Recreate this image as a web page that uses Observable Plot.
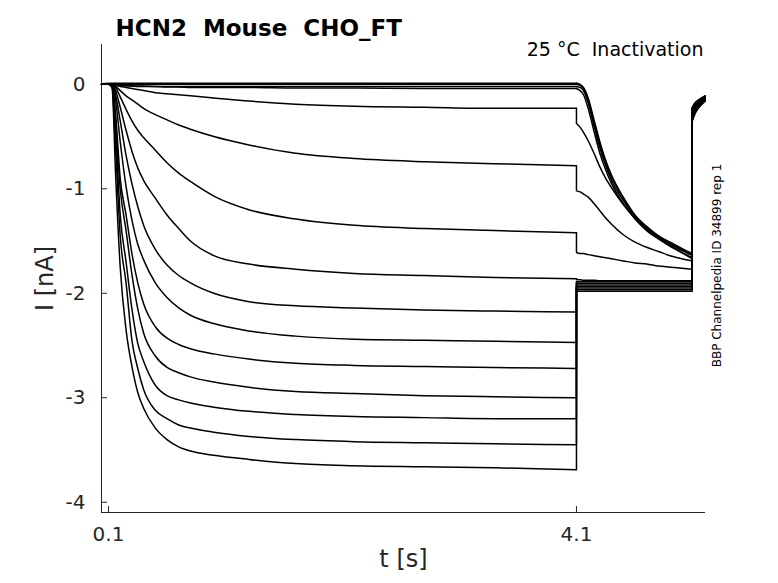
<!DOCTYPE html>
<html>
<head>
<meta charset="utf-8">
<script src="https://cdn.jsdelivr.net/npm/d3@7"></script>
<script src="https://cdn.jsdelivr.net/npm/@observablehq/plot@0.6"></script>
<style>
  html, body { margin: 0; padding: 0; background: #fff; }
  svg text { white-space: pre; }
</style>
</head>
<body>
<div id="chart"></div>
<script>
// ---- text ----
const titleText = "HCN2  Mouse  CHO_FT";
const conditionText = "25 °C  Inactivation";
const sideText = "BBP Channelpedia ID 34899 rep 1";
const xLabel = "t [s]";
const yLabel = "I [nA]";

// ---- axes ----
const xDomain = [0.04, 5.203];
const yDomain = [-4.098, 0.381];
const xTicks = [0.1, 4.1];
const xTickLabels = ["0.1", "4.1"];
const yTicks = [0, -1, -2, -3, -4];
const yTickLabels = ["0", "-1", "-2", "-3", "-4"];

// ---- traces (15 sweeps) ----
const traceNames = ["Z1","Z2","Z3","Z4","A","B","C","D","E","F","G","H","I","J","K"];

// conditioning step (0.1 s – 4.1 s)
const tAct = [0.04, 0.1, 0.13, 0.16, 0.2, 0.25, 0.3, 0.35, 0.4, 0.5, 0.6, 0.7, 0.8, 1.0, 1.3, 1.7, 2.2, 2.8, 3.4, 4.1];
const actCurrents = [
  [0.005,0.01,0.01,0.01,0.01,0.01,0.01,0.01,0.01,0.01,0.01,0.01,0.01,0.01,0.01,0.01,0.01,0.01,0.01,0.01],
  [0,0,0,0,0,0,0,0,0,0,0,0,0,0,0,0,0,0,0,0],
  [0,0,-0.005,-0.01,-0.01,-0.01,-0.015,-0.015,-0.015,-0.02,-0.02,-0.02,-0.02,-0.02,-0.02,-0.02,-0.02,-0.02,-0.02,-0.02],
  [0,0,-0.005,-0.01,-0.01,-0.015,-0.015,-0.02,-0.02,-0.02,-0.025,-0.025,-0.03,-0.03,-0.03,-0.035,-0.035,-0.04,-0.04,-0.04],
  [0,0,0,-0.01,-0.02,-0.03,-0.04,-0.05,-0.06,-0.08,-0.09,-0.10,-0.11,-0.13,-0.16,-0.19,-0.21,-0.22,-0.23,-0.23],
  [0,0,0,-0.02,-0.06,-0.11,-0.15,-0.19,-0.23,-0.29,-0.34,-0.39,-0.43,-0.50,-0.58,-0.66,-0.71,-0.74,-0.76,-0.78],
  [0,0,0,-0.03,-0.12,-0.24,-0.35,-0.44,-0.51,-0.63,-0.75,-0.85,-0.93,-1.07,-1.20,-1.29,-1.35,-1.38,-1.40,-1.42],
  [0,0,-0.005,-0.06,-0.22,-0.44,-0.64,-0.80,-0.92,-1.09,-1.25,-1.38,-1.50,-1.64,-1.72,-1.77,-1.81,-1.83,-1.85,-1.86],
  [0,0,-0.01,-0.10,-0.35,-0.68,-0.95,-1.17,-1.35,-1.58,-1.73,-1.83,-1.90,-2.00,-2.08,-2.12,-2.14,-2.16,-2.17,-2.18],
  [0,0,-0.01,-0.15,-0.55,-0.98,-1.30,-1.53,-1.68,-1.90,-2.04,-2.14,-2.21,-2.29,-2.36,-2.41,-2.44,-2.45,-2.46,-2.47],
  [0,0,-0.01,-0.28,-0.90,-1.25,-1.62,-1.90,-2.10,-2.32,-2.43,-2.49,-2.53,-2.58,-2.63,-2.67,-2.69,-2.70,-2.71,-2.72],
  [0,0,-0.02,-0.35,-1.00,-1.40,-1.82,-2.15,-2.38,-2.60,-2.71,-2.76,-2.80,-2.85,-2.90,-2.94,-2.96,-2.98,-2.99,-3.00],
  [0,0,-0.02,-0.45,-1.25,-1.70,-2.15,-2.48,-2.65,-2.88,-2.98,-3.02,-3.05,-3.09,-3.13,-3.16,-3.18,-3.19,-3.20,-3.20],
  [0,0,-0.02,-0.60,-1.45,-1.90,-2.45,-2.72,-2.92,-3.12,-3.20,-3.26,-3.29,-3.33,-3.37,-3.40,-3.42,-3.43,-3.44,-3.45],
  [0,0,-0.03,-0.85,-1.75,-2.35,-2.70,-2.95,-3.10,-3.29,-3.40,-3.47,-3.51,-3.55,-3.59,-3.63,-3.65,-3.66,-3.67,-3.69]
];

// test step (4.1 s – 5.09 s)
const tTail = [4.1, 4.13, 4.16, 4.2, 4.25, 4.3, 4.35, 4.4, 4.5, 4.6, 4.7, 4.8, 4.9, 5.0, 5.09];
const tailCurrents = [
  [0.01,0,-0.03,-0.13,-0.34,-0.55,-0.73,-0.87,-1.08,-1.25,-1.36,-1.45,-1.51,-1.57,-1.62],
  [0,-0.01,-0.04,-0.15,-0.37,-0.58,-0.75,-0.89,-1.09,-1.26,-1.37,-1.45,-1.52,-1.58,-1.63],
  [-0.02,-0.03,-0.06,-0.18,-0.40,-0.61,-0.78,-0.92,-1.11,-1.27,-1.38,-1.46,-1.53,-1.59,-1.64],
  [-0.04,-0.06,-0.10,-0.23,-0.45,-0.66,-0.82,-0.95,-1.14,-1.29,-1.40,-1.48,-1.55,-1.61,-1.66],
  [-0.375,-0.41,-0.46,-0.54,-0.66,-0.79,-0.90,-0.99,-1.15,-1.28,-1.39,-1.47,-1.54,-1.61,-1.67],
  [-1.02,-1.03,-1.05,-1.08,-1.14,-1.21,-1.28,-1.34,-1.44,-1.51,-1.56,-1.60,-1.64,-1.67,-1.69],
  [-1.61,-1.62,-1.62,-1.63,-1.64,-1.65,-1.66,-1.67,-1.69,-1.71,-1.72,-1.74,-1.75,-1.76,-1.77],
  [-1.87,-1.87,-1.875,-1.875,-1.875,-1.88,-1.88,-1.88,-1.88,-1.88,-1.88,-1.88,-1.88,-1.88,-1.88],
  [-1.89,-1.89,-1.89,-1.89,-1.89,-1.89,-1.89,-1.89,-1.89,-1.89,-1.89,-1.89,-1.89,-1.89,-1.89],
  [-1.905,-1.905,-1.905,-1.905,-1.905,-1.905,-1.905,-1.905,-1.905,-1.905,-1.905,-1.905,-1.905,-1.905,-1.905],
  [-1.92,-1.92,-1.92,-1.92,-1.92,-1.92,-1.92,-1.92,-1.92,-1.92,-1.92,-1.92,-1.92,-1.92,-1.92],
  [-1.935,-1.935,-1.935,-1.935,-1.935,-1.935,-1.935,-1.935,-1.935,-1.935,-1.935,-1.935,-1.935,-1.935,-1.935],
  [-1.95,-1.95,-1.95,-1.95,-1.95,-1.95,-1.95,-1.95,-1.95,-1.95,-1.95,-1.95,-1.95,-1.95,-1.95],
  [-1.965,-1.965,-1.965,-1.965,-1.965,-1.965,-1.965,-1.965,-1.965,-1.965,-1.965,-1.965,-1.965,-1.965,-1.965],
  [-1.98,-1.98,-1.98,-1.98,-1.98,-1.98,-1.98,-1.98,-1.98,-1.98,-1.98,-1.98,-1.98,-1.98,-1.98]
];

// return to holding (5.09 s – 5.2 s)
const tEnd = [5.09, 5.11, 5.14, 5.17, 5.2];
const endCurrents = [
  [-0.22,-0.18,-0.15,-0.13,-0.11],
  [-0.23,-0.19,-0.16,-0.13,-0.11],
  [-0.23,-0.19,-0.16,-0.14,-0.12],
  [-0.24,-0.20,-0.17,-0.14,-0.12],
  [-0.25,-0.21,-0.17,-0.15,-0.12],
  [-0.27,-0.22,-0.18,-0.15,-0.13],
  [-0.29,-0.24,-0.19,-0.16,-0.13],
  [-0.31,-0.25,-0.20,-0.17,-0.14],
  [-0.32,-0.26,-0.21,-0.17,-0.14],
  [-0.32,-0.26,-0.21,-0.18,-0.15],
  [-0.33,-0.27,-0.22,-0.18,-0.15],
  [-0.33,-0.27,-0.22,-0.18,-0.15],
  [-0.34,-0.28,-0.22,-0.19,-0.16],
  [-0.34,-0.28,-0.23,-0.19,-0.16],
  [-0.35,-0.29,-0.23,-0.19,-0.16]
];

// ---- build tables for the marks ----
const phases = [
  {name: "act", t: tAct, I: actCurrents},
  {name: "tail", t: tTail, I: tailCurrents},
  {name: "end", t: tEnd, I: endCurrents}
];
const rows = [];
traceNames.forEach((name, k) => {
  phases.forEach(ph => {
    ph.t.forEach((t, j) => rows.push({t, I: ph.I[k][j], seg: name + "-" + ph.name}));
  });
});
const jumps = [];
traceNames.forEach((name, k) => {
  jumps.push({t: tTail[0], y1: actCurrents[k][tAct.length - 1], y2: tailCurrents[k][0]});
  jumps.push({t: tEnd[0], y1: tailCurrents[k][tTail.length - 1], y2: endCurrents[k][0]});
});

const W = 778, H = 583, mL = 101, mR = 73, mT = 44, mB = 71;
const axisColor = "#262626";

const chart = Plot.plot({
  width: W, height: H,
  marginLeft: mL, marginRight: mR, marginTop: mT, marginBottom: mB,
  x: {domain: xDomain, axis: null},
  y: {domain: yDomain, axis: null},
  style: {fontFamily: "'DejaVu Sans', sans-serif", background: "#fff", color: axisColor},
  marks: [
    // spines
    Plot.ruleX([xDomain[0]], {stroke: axisColor, strokeWidth: 1}),
    Plot.ruleY([yDomain[0]], {stroke: axisColor, strokeWidth: 1}),
    // inward ticks
    Plot.tickY(yTicks, {y: d => d, insetRight: W - mL - mR - 6, stroke: axisColor}),
    Plot.tickX(xTicks, {x: d => d, insetTop: H - mT - mB - 6, stroke: axisColor}),
    // tick labels
    Plot.text(yTicks, {x: xDomain[0], y: d => d, text: (d, i) => yTickLabels[i], textAnchor: "end", dx: -16, fontSize: 20, fill: axisColor}),
    Plot.text(xTicks, {x: d => d, y: yDomain[0], text: (d, i) => xTickLabels[i], dy: 22, fontSize: 20, fill: axisColor}),
    // traces
    Plot.line(rows, {x: "t", y: "I", z: "seg", curve: "monotone-x", stroke: "black", strokeWidth: 1.5}),
    Plot.ruleX(jumps, {x: "t", y1: "y1", y2: "y2", stroke: "black", strokeWidth: 1.5}),
    // labels
    Plot.text([yLabel], {frameAnchor: "left", textAnchor: "middle", dx: -56, rotate: -90, fontSize: 24, fill: axisColor}),
    Plot.text([xLabel], {frameAnchor: "bottom", dy: 54, fontSize: 24, fill: axisColor}),
    Plot.text([titleText], {frameAnchor: "top-left", textAnchor: "start", dx: 14, dy: -25, fontSize: 23, fontWeight: "bold", fill: "#000"}),
    Plot.text([conditionText], {frameAnchor: "top-right", textAnchor: "end", dx: -2, dy: -2, fontSize: 19, fill: "#000"}),
    Plot.text([sideText], {frameAnchor: "right", textAnchor: "middle", dx: 12, dy: -13, rotate: -90, fontSize: 12, fill: "#000"})
  ]
});
document.getElementById("chart").appendChild(chart);
</script>
</body>
</html>
